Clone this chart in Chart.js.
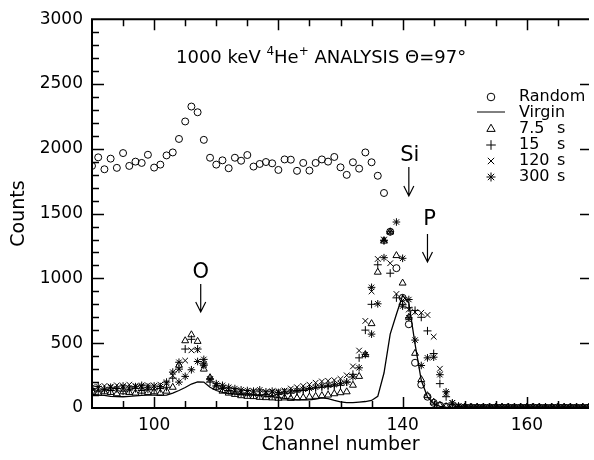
<!DOCTYPE html>
<html><head><meta charset="utf-8">
<script src="https://cdn.jsdelivr.net/npm/chart.js@4/dist/chart.umd.min.js"></script>
<style>html,body{margin:0;padding:0;background:#fff}#wrap{width:594px;height:460px;position:relative}</style>
</head><body><div id="wrap"><canvas id="c" width="594" height="460"></canvas></div>
<script>
// ---- data (channel number -> counts) ----
const channels = [90,91,92,93,94,95,96,97,98,99,100,101,102,103,104,105,106,107,108,109,110,111,112,113,114,115,116,117,118,119,120,121,122,123,124,125,126,127,128,129,130,131,132,133,134,135,136,137,138,139,140,141,142,143,144,145,146,147,148,149,150,151,152,153,154,155,156,157,158,159,160,161,162,163,164,165,166,167,168,169,170];
const randomCounts = [1868,1934,1842,1924,1853,1967,1868,1901,1891,1954,1855,1878,1949,1972,2076,2211,2326,2282,2069,1931,1878,1911,1850,1931,1908,1952,1863,1883,1898,1888,1837,1918,1916,1830,1891,1832,1891,1918,1901,1937,1857,1799,1896,1847,1972,1896,1792,1659,1360,1079,850,646,349,180,87,40,20,10,6,5,4,5,3,4,5,4,3,5,4,4,3,5,4,3,4,5,3,4,4,3,4];
const virginCounts = [105,100,97,90,88,87,90,93,98,100,100,98,100,115,135,158,185,201,200,160,135,120,112,108,104,100,99,95,90,87,80,74,68,63,62,62,68,78,72,58,48,42,41,45,50,58,90,270,570,723,870,810,494,214,85,35,12,6,5,5,5,5,4,5,5,4,5,5,4,5,5,4,5,5,4,5,5,4,5,5,4];
const counts7_5s = [130,115,125,120,110,125,120,115,130,120,125,115,130,160,330,519,565,514,300,234,160,130,115,105,95,90,88,82,80,78,75,78,74,78,80,85,90,95,100,110,118,125,176,244,412,651,1048,1288,1359,1176,964,700,422,219,95,45,20,10,6,5,4,3,5,4,3,4,5,3,4,4,3,4,5,3,4,3,4,5,3,4,4];
const counts15s = [140,130,145,135,150,130,140,150,135,145,140,150,160,230,300,455,530,455,330,200,170,150,135,125,115,110,105,100,105,95,105,110,115,125,135,145,155,160,165,170,175,200,260,387,601,800,1105,1290,1040,850,800,773,753,700,595,420,188,87,30,12,6,5,7,5,6,5,6,7,5,6,5,6,5,7,6,5,6,5,6,5,6];
const counts120s = [160,150,170,165,175,160,180,170,165,175,170,180,190,250,300,366,445,450,330,220,170,150,140,135,125,120,130,115,120,125,130,135,150,160,170,180,195,205,210,215,225,252,321,443,672,900,1150,1300,1117,880,830,760,740,735,718,550,303,110,40,15,7,6,8,6,7,6,8,7,6,7,6,8,6,7,6,7,8,6,7,6,7];
const counts300s = [150,165,140,160,150,170,155,165,175,160,170,165,200,277,200,244,295,359,375,226,188,175,160,150,140,135,130,140,125,130,120,125,130,135,145,150,160,170,175,180,190,200,240,310,412,931,804,1160,1360,1435,1155,837,524,328,387,392,257,125,40,15,8,6,7,9,6,8,7,6,8,7,9,6,7,8,6,7,8,6,7,8,6];
const extra300sChannels = [104,108,135,137,140,141];
const extra300sCounts = [353,340,570,1295,786,697];
const xTickLabels = [100,120,140,160];
const yTickLabels = [0,500,1000,1500,2000,2500,3000];
const legendLabels = ['Random','Virgin','7.5','15','120','300'];

const FONT = '"DejaVu Sans", sans-serif';
const xy = (xs, ys) => xs.map((x, i) => ({x: x, y: ys[i]}));

const sym = (label, data, style, r) => ({
  label, data, showLine: false, pointStyle: style, pointRadius: r, pointHoverRadius: r,
  borderColor: '#000', backgroundColor: 'rgba(0,0,0,0)', pointBorderWidth: 1, borderWidth: 1
});

const datasets = [
  {label: 'Virgin', data: xy(channels, virginCounts), showLine: true, pointRadius: 0, borderColor: '#000', borderWidth: 1.3, tension: 0, fill: false},
  sym('Random', xy(channels, randomCounts), 'circle', 3.5),
  sym('7.5 s', xy(channels, counts7_5s), 'triangle', 4),
  sym('15 s', xy(channels, counts15s), 'cross', 4),
  sym('120 s', xy(channels, counts120s), 'crossRot', 4),
  sym('300 s', xy(channels, counts300s).concat(xy(extra300sChannels, extra300sCounts)), 'star', 3.8)
];

function drawSym(ctx, style, r, x, y) {
  ctx.save();
  ctx.strokeStyle = '#000'; ctx.fillStyle = 'rgba(0,0,0,0)'; ctx.lineWidth = 1;
  Chart.helpers.drawPoint(ctx, {pointStyle: style, radius: r, rotation: 0, borderWidth: 1}, x, y);
  ctx.restore();
}

function arrow(ctx, x, y1, y2) {
  ctx.beginPath();
  ctx.moveTo(x, y1); ctx.lineTo(x, y2);
  ctx.moveTo(x - 5, y2 - 10); ctx.lineTo(x, y2); ctx.lineTo(x + 5, y2 - 10);
  ctx.stroke();
}

const decor = {
  id: 'decor',
  afterDraw(chart) {
    const ctx = chart.ctx, xs = chart.scales.x, ys = chart.scales.y, a = chart.chartArea;
    ctx.save();
    ctx.strokeStyle = '#000'; ctx.fillStyle = '#000';
    // frame
    ctx.lineWidth = 2;
    ctx.beginPath();
    ctx.moveTo(a.left, a.top); ctx.lineTo(a.right, a.top);
    ctx.moveTo(a.left, a.top - 1); ctx.lineTo(a.left, a.bottom + 1);
    ctx.moveTo(a.left, a.bottom); ctx.lineTo(a.right, a.bottom);
    ctx.stroke();
    // ticks
    ctx.lineWidth = 1.5;
    ctx.beginPath();
    for (let v = 95; v < 170; v += 5) {
      const px = Math.round(xs.getPixelForValue(v)) + 0.5;
      const len = v % 20 === 0 ? 11 : 7;
      ctx.moveTo(px, a.bottom); ctx.lineTo(px, a.bottom - len);
      ctx.moveTo(px, a.top); ctx.lineTo(px, a.top + len);
    }
    for (let v = 100; v < 3000; v += 100) {
      const py = Math.round(ys.getPixelForValue(v)) + 0.5;
      const len = v % 500 === 0 ? 12 : 7;
      ctx.moveTo(a.left, py); ctx.lineTo(a.left + len, py);
      if (v % 500 === 0) { ctx.moveTo(a.right, py); ctx.lineTo(a.right - 9, py); }
    }
    ctx.stroke();

    // header text
    ctx.lineWidth = 1;
    ctx.textBaseline = 'alphabetic'; ctx.textAlign = 'left';
    const parts = [['1000 keV ', 0], ['4', 1], ['He', 0], ['+', 1], [' ANALYSIS ', 0], ['\u0398=97\u00b0', 0]];
    let tx = 176; const tb = 63;
    for (const [t, sup] of parts) {
      ctx.font = (sup ? '12px ' : '18px ') + FONT;
      ctx.fillText(t, tx, sup ? tb - 8 : tb);
      tx += ctx.measureText(t).width;
    }

    // legend
    const lx = 491, tx0 = 519, sx = 557;
    const rows = [97, 113, 129, 145, 161, 177];
    ctx.font = '16px ' + FONT; ctx.textBaseline = 'middle';
    drawSym(ctx, 'circle', 3.8, lx, rows[0]);
    ctx.beginPath(); ctx.moveTo(477, rows[1] - 1); ctx.lineTo(505, rows[1] - 1); ctx.stroke();
    drawSym(ctx, 'triangle', 4.8, lx, rows[2]);
    drawSym(ctx, 'cross', 4.8, lx, rows[3]);
    drawSym(ctx, 'crossRot', 4.5, lx, rows[4]);
    drawSym(ctx, 'star', 4.5, lx, rows[5]);
    legendLabels.forEach((t, i) => {
      ctx.fillText(t, tx0, rows[i]);
      if (i >= 2) ctx.fillText('s', sx, rows[i]);
    });

    // peak annotations
    ctx.font = '21px ' + FONT; ctx.textAlign = 'center'; ctx.textBaseline = 'alphabetic';
    ctx.lineWidth = 1.2;
    const siX = xs.getPixelForValue(141), pX = xs.getPixelForValue(144), oX = xs.getPixelForValue(107.5);
    ctx.fillText('Si', siX + 1, 161);
    arrow(ctx, siX, 167, 196);
    ctx.fillText('P', pX + 2, 225);
    arrow(ctx, pX, 234, 262);
    ctx.fillText('O', oX, 278);
    arrow(ctx, oX, 284, 312);
    ctx.restore();
  }
};

new Chart(document.getElementById('c'), {
  type: 'scatter',
  data: {datasets},
  options: {
    responsive: false, animation: false, devicePixelRatio: 1,
    layout: {padding: {top: 15, right: 0, left: 0, bottom: 0}},
    plugins: {legend: {display: false}, tooltip: {enabled: false}},
    scales: {
      x: {
        type: 'linear', min: 90, max: 170,
        afterBuildTicks: s => { s.ticks = xTickLabels.map(v => ({value: v})); },
        afterFit: s => { s.height = 52; },
        grid: {display: false, drawTicks: false}, border: {display: false},
        ticks: {color: '#000', font: {family: FONT, size: 17}, padding: 7, maxRotation: 0, autoSkip: false, callback: v => String(v)},
        title: {display: true, text: 'Channel number', color: '#000', font: {family: FONT, size: 19}, padding: {top: 0, bottom: 4}}
      },
      y: {
        type: 'linear', min: 0, max: 3000,
        afterBuildTicks: s => { s.ticks = yTickLabels.map(v => ({value: v})); },
        afterFit: s => { s.width = 92; },
        grid: {display: false, drawTicks: false}, border: {display: false},
        ticks: {color: '#000', font: {family: FONT, size: 17}, padding: 9, autoSkip: false, callback: v => String(v)},
        title: {display: true, text: 'Counts', color: '#000', font: {family: FONT, size: 19}, padding: {top: 8, bottom: 0}}
      }
    }
  },
  plugins: [decor]
});
</script></body></html>
